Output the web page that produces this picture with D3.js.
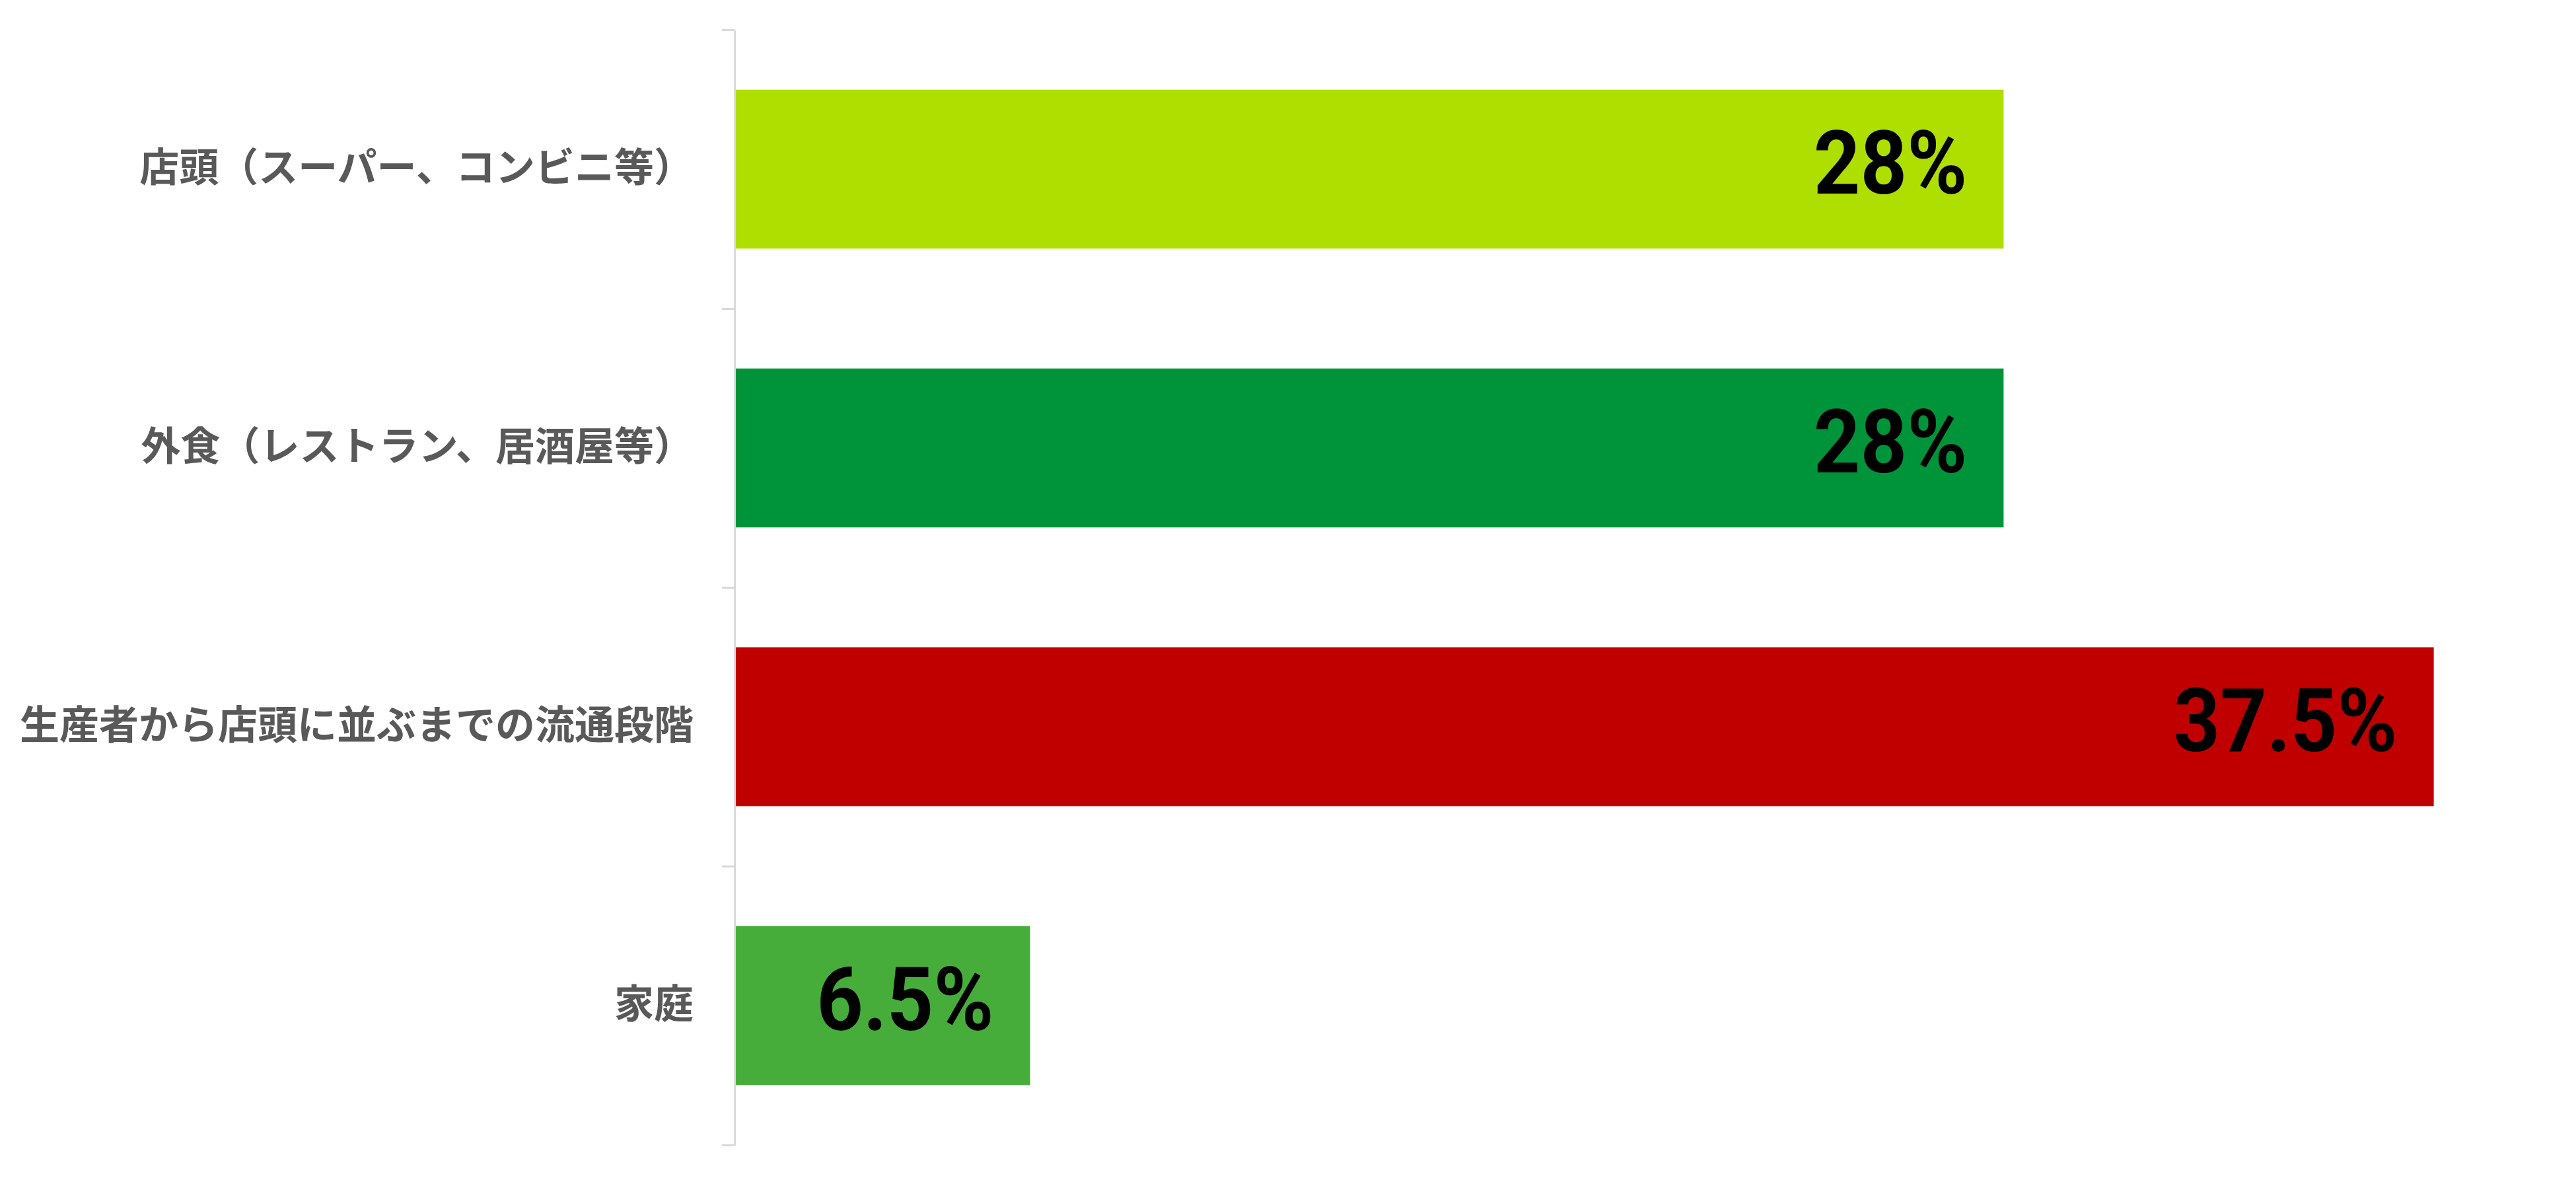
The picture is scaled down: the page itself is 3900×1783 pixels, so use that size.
<!DOCTYPE html>
<meta charset="utf-8">
<style>
    body {
        margin: 0;
        background: #fff;
    }

    svg {
        display: block;
    }

    .cat text {
        font-family: "Noto Sans CJK JP", sans-serif;
        font-weight: bold;
        font-size: 60px;
        fill: #595959;
    }

    .frame path,
    .frame line {
        fill: none;
        stroke: #d9d9d9;
        stroke-width: 3px;
        shape-rendering: crispEdges;
    }
</style>
<body>
<script src="https://d3js.org/d3.v7.min.js"></script>
<script>
    // data
    const categories = ['店頭（スーパー、コンビニ等）', '外食（レストラン、居酒屋等）', '生産者から店頭に並ぶまでの流通段階', '家庭'];
    const values = [28, 28, 37.5, 6.5];
    const valueLabels = ['28%', '28%', '37.5%', '6.5%'];
    const barColors = ['#aedf00', '#00943a', '#c00000', '#46ad3a'];

    const width = 3900;
    const height = 1783;
    const margin = {top: 45, right: 60, bottom: 50, left: 1112};

    const svg = d3.select('body')
        .append('svg')
        .attr('width', width)
        .attr('height', height);

    const y = d3.scaleBand()
        .domain(categories)
        .range([margin.top, height - margin.bottom])
        .paddingInner(0.43)
        .paddingOuter(0.215);

    // about 68.5 px per percent
    const x = d3.scaleLinear()
        .domain([0, 40])
        .range([margin.left + 2, margin.left + 2 + 2742]);

    // bars
    svg.append('g')
        .selectAll('rect')
        .data(values)
        .enter().append('rect')
        .attr('x', x(0))
        .attr('y', (d, i) => y(categories[i]))
        .attr('width', d => x(d) - x(0))
        .attr('height', y.bandwidth())
        .style('fill', (d, i) => barColors[i]);

    // axis line with ticks at the band boundaries
    const edges = d3.scaleLinear()
        .domain([0, categories.length])
        .range([margin.top, height - margin.bottom]);

    svg.append('g')
        .attr('class', 'frame')
        .attr('transform', 'translate(' + margin.left + ',0)')
        .call(d3.axisLeft(edges)
            .tickValues(d3.range(categories.length + 1))
            .tickFormat('')
            .tickSizeInner(19)
            .tickSizeOuter(0));

    // category labels
    svg.append('g')
        .attr('class', 'cat')
        .attr('transform', 'translate(' + margin.left + ',0)')
        .call(d3.axisLeft(y).tickSize(0).tickPadding(62))
        .call(g => g.select('.domain').remove());

    // value labels inside bar ends, a bit condensed like the original
    svg.append('g')
        .selectAll('text')
        .data(values)
        .enter().append('text')
        .attr('transform', (d, i) => 'translate(' + (x(d) - 55) + ',' + (y(categories[i]) + y.bandwidth() / 2 - 10) + ') scale(0.92,1)')
        .attr('dy', '0.35em')
        .style('text-anchor', 'end')
        .style('font-family', 'Roboto, sans-serif')
        .style('font-weight', 'bold')
        .style('font-size', '134px')
        .style('fill', '#000')
        .text((d, i) => valueLabels[i]);
</script>
</body>
</html>
